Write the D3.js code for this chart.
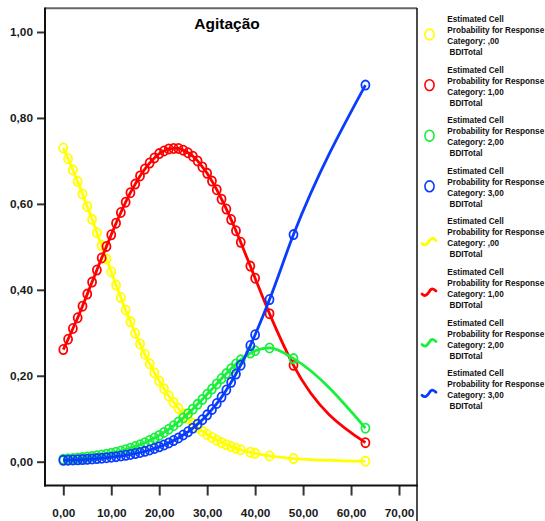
<!DOCTYPE html>
<html>
<head>
<meta charset="utf-8">
<script src="https://cdn.jsdelivr.net/npm/d3@7"></script>
<style>
  body { margin: 0; background: #fff; }
  svg text { font-family: "Liberation Sans", Arial, sans-serif; }
</style>
</head>
<body>
<div id="chart_div"></div>
<script>
// BDI total scores (x) and estimated cell probabilities per response category
var bdiTotal = [0,1,2,3,4,5,6,7,8,9,10,11,12,13,14,15,16,17,18,19,20,21,22,23,24,25,26,27,28,29,30,31,32,33,34,35,36,37,39,40,43,48,63];

var probCat0 = [0.730,0.705,0.679,0.652,0.623,0.594,0.564,0.533,0.503,0.472,0.442,0.411,0.382,0.353,0.326,0.299,0.274,0.250,0.228,0.207,0.188,0.170,0.153,0.138,0.124,0.111,0.0995,0.089,0.0795,0.071,0.0633,0.0564,0.0502,0.0446,0.0397,0.0352,0.0313,0.0278,0.0218,0.0194,0.0135,0.0073,0.0012];
var probCat1 = [0.261,0.285,0.310,0.335,0.362,0.390,0.418,0.446,0.474,0.501,0.528,0.555,0.580,0.604,0.626,0.646,0.665,0.681,0.695,0.707,0.717,0.723,0.728,0.729,0.729,0.725,0.719,0.711,0.700,0.686,0.671,0.653,0.633,0.611,0.588,0.5635,0.5375,0.5106,0.4552,0.4271,0.3445,0.2243,0.0443];
var probCat2 = [0.0059,0.0067,0.0075,0.0085,0.0096,0.0108,0.0122,0.0138,0.0155,0.0175,0.0197,0.0222,0.0249,0.0280,0.0314,0.0352,0.0394,0.0441,0.0493,0.0550,0.0612,0.0681,0.0755,0.0836,0.0924,0.1017,0.1117,0.1223,0.1335,0.145,0.157,0.169,0.181,0.1935,0.205,0.2166,0.2272,0.2370,0.2527,0.2582,0.2647,0.2399,0.0781];
var probCat3 = [0.0031,0.0035,0.0039,0.0044,0.0050,0.0056,0.0064,0.0072,0.0081,0.0092,0.0104,0.0117,0.0132,0.0149,0.0168,0.0190,0.0214,0.0241,0.0272,0.0307,0.0346,0.0389,0.0438,0.0492,0.0553,0.0621,0.0696,0.0780,0.0874,0.0977,0.109,0.1217,0.1354,0.1504,0.1669,0.1847,0.2040,0.2246,0.2703,0.2953,0.3773,0.5285,0.8764];

var categoryNames = [',00', '1,00', '2,00', '3,00'];
var xTicks = [0, 10, 20, 30, 40, 50, 60, 70];
var yTicks = [0, 0.2, 0.4, 0.6, 0.8, 1.0];
var chartTitle = 'Agitação';

var colors = ['#ffff00', '#ff0000', '#19f03c', '#0a3cff'];
var seriesValues = [probCat0, probCat1, probCat2, probCat3];

var svg = d3.select("#chart_div")
	.append("svg")
	.attr("width", 545)
	.attr("height", 521);

var x = d3.scaleLinear().domain([0, 70]).range([63.3, 399]);
var y = d3.scaleLinear().domain([0, 1]).range([461.7, 32]);
var fmt = function(v) { return v.toFixed(2).replace('.', ','); };

// frame
svg.append('line').attr('x1', 45).attr('x2', 417).attr('y1', 8.3).attr('y2', 8.3)
	.style('stroke', '#666').style('stroke-width', 2);
svg.append('line').attr('x1', 417).attr('x2', 417).attr('y1', 8).attr('y2', 521)
	.style('stroke', '#111').style('stroke-width', 1.5);

// axes
var yAxis = svg.append('g')
	.attr('transform', 'translate(45,0)')
	.call(d3.axisLeft(y).tickValues(yTicks).tickFormat(fmt).tickSize(8).tickPadding(4));
var xAxis = svg.append('g')
	.attr('transform', 'translate(0,485.5)')
	.call(d3.axisBottom(x).tickValues(xTicks).tickFormat(fmt).tickSize(10).tickPadding(13));

[xAxis, yAxis].forEach(function(ax) {
	ax.select('.domain').remove();
	ax.selectAll('.tick line').style('stroke', '#333').style('stroke-width', 2);
	ax.selectAll('.tick text')
		.style('font-family', '"Liberation Sans", Arial, sans-serif')
		.style('font-size', '11.8px')
		.style('font-weight', 'bold')
		.style('fill', '#1a1a1a');
});
svg.append('line').attr('x1', 45).attr('x2', 45).attr('y1', 7.5).attr('y2', 486.5)
	.style('stroke', '#111').style('stroke-width', 2);
svg.append('line').attr('x1', 44).attr('x2', 418).attr('y1', 485.5).attr('y2', 485.5)
	.style('stroke', '#111').style('stroke-width', 2);

// title
svg.append('text')
	.attr('x', 227).attr('y', 29)
	.attr('text-anchor', 'middle')
	.style('font-size', '15.5px')
	.style('font-weight', 'bold')
	.text(chartTitle);

// series
var line = d3.line()
	.x(function(d) { return x(d[0]); })
	.y(function(d) { return y(d[1]); })
	.curve(d3.curveMonotoneX);

seriesValues.forEach(function(vals, i) {
	var pts = bdiTotal.map(function(b, j) { return [b, vals[j]]; });
	var g = svg.append('g').attr('class', 'series');
	g.append('path')
		.datum(pts)
		.attr('d', line)
		.style('fill', 'none')
		.style('stroke', colors[i])
		.style('stroke-width', 2.8);
	g.selectAll('ellipse')
		.data(pts)
		.enter()
		.append('ellipse')
		.attr('cx', function(d) { return x(d[0]); })
		.attr('cy', function(d) { return y(d[1]); })
		.attr('rx', 4)
		.attr('ry', 4.6)
		.style('fill', 'none')
		.style('stroke', colors[i])
		.style('stroke-width', 1.8);
});

// legend
var legendValues = [];
categoryNames.forEach(function(c, i) { legendValues.push({'name': c, 'color': colors[i], 'kind': 'marker'}); });
categoryNames.forEach(function(c, i) { legendValues.push({'name': c, 'color': colors[i], 'kind': 'line'}); });

var legend = svg.selectAll('.legend')
	.data(legendValues)
	.enter()
	.append('g')
	.attr('class', 'legend')
	.attr('transform', function(d, i) {
		return 'translate(0,' + (22 + i * 50.6) + ')'; });

legend.filter(function(d) { return d.kind == 'marker'; })
	.append('ellipse')
	.attr('cx', 429.5).attr('cy', 12.5)
	.attr('rx', 4.6).attr('ry', 5.4)
	.style('fill', 'none')
	.style('stroke', function(d) { return d.color; })
	.style('stroke-width', 1.6);

legend.filter(function(d) { return d.kind == 'line'; })
	.append('path')
	.attr('d', 'M422,19 C425,22 427,20 429,17 C431,13 433,13 436,16')
	.style('fill', 'none')
	.style('stroke', function(d) { return d.color; })
	.style('stroke-width', 2.8)
	.style('stroke-linecap', 'round');

legend.each(function(d) {
	var lines = ['Estimated Cell', 'Probability for Response', 'Category: ' + d.name, 'BDITotal'];
	var g = d3.select(this);
	lines.forEach(function(t, k) {
		g.append('text')
			.attr('x', k == 3 ? 449.5 : 447.3)
			.attr('y', k * 11)
			.style('font-size', '8.2px')
			.style('font-weight', 'bold')
			.style('fill', '#111')
			.text(t);
	});
});
</script>
</body>
</html>
